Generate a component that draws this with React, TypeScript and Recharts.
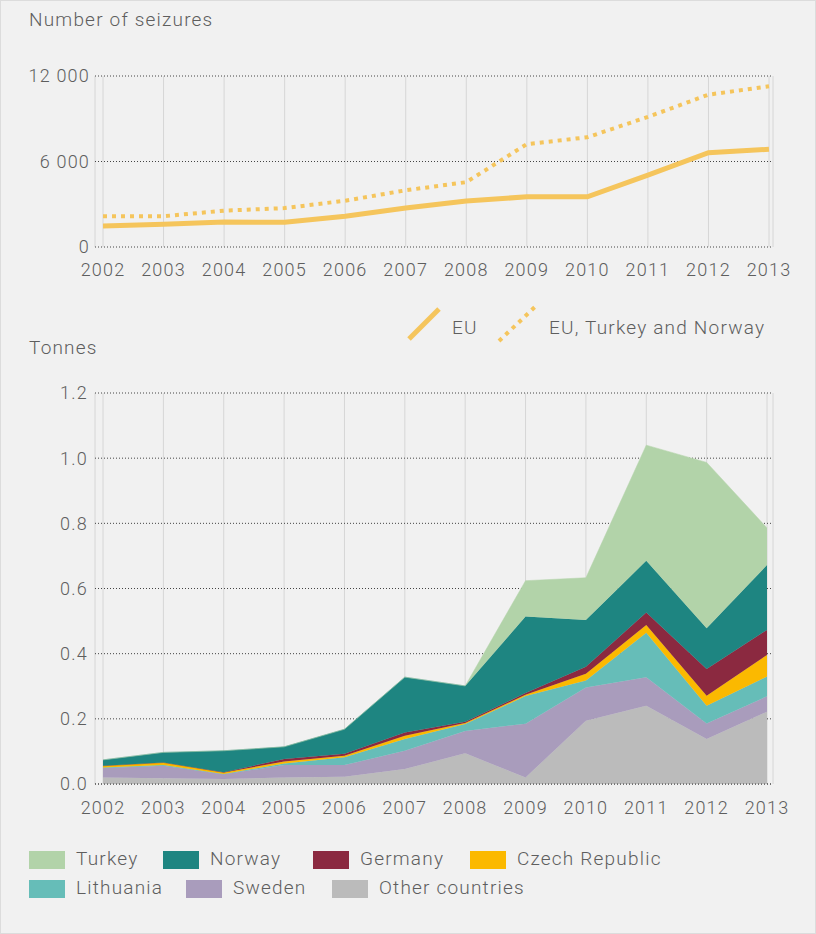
import React from 'react';
import { LineChart, Line, AreaChart, Area, XAxis, YAxis, CartesianGrid, ReferenceLine } from 'recharts';

// ---------- data ----------
const years = ['2002', '2003', '2004', '2005', '2006', '2007', '2008', '2009', '2010', '2011', '2012', '2013'];

const seizuresEU = [1480, 1590, 1750, 1730, 2160, 2730, 3230, 3520, 3520, 5050, 6620, 6860];
const seizuresEUTurkeyNorway = [2160, 2160, 2550, 2730, 3250, 3980, 4550, 7220, 7700, 9130, 10690, 11280];
const seizureTicks = [0, 6000, 12000];

const otherCountries = [0.020, 0.018, 0.015, 0.020, 0.022, 0.046, 0.094, 0.020, 0.194, 0.240, 0.138, 0.222];
const sweden = [0.029, 0.038, 0.015, 0.038, 0.036, 0.056, 0.069, 0.165, 0.102, 0.088, 0.048, 0.047];
const lithuania = [0.002, 0.002, 0.001, 0.005, 0.024, 0.036, 0.021, 0.085, 0.022, 0.136, 0.054, 0.061];
const czechRepublic = [0.005, 0.008, 0.004, 0.006, 0.005, 0.010, 0.003, 0.004, 0.020, 0.024, 0.031, 0.066];
const germany = [0.000, 0.000, 0.001, 0.008, 0.006, 0.010, 0.004, 0.005, 0.022, 0.038, 0.082, 0.077];
const norway = [0.018, 0.031, 0.066, 0.037, 0.075, 0.170, 0.110, 0.235, 0.143, 0.159, 0.125, 0.199];
const turkey = [0, 0, 0, 0, 0, 0, 0, 0.110, 0.130, 0.355, 0.509, 0.114];
const tonnesTicks = [0, 0.2, 0.4, 0.6, 0.8, 1.0, 1.2];

const lineLabels = ['EU', 'EU, Turkey and Norway'];
const areaLabels = ['Other countries', 'Sweden', 'Lithuania', 'Czech Republic', 'Germany', 'Norway', 'Turkey'];

// ---------- derived tables ----------
const seizureData = years.map((y, i) => ({ year: y, eu: seizuresEU[i], euTrNo: seizuresEUTurkeyNorway[i] }));
const tonnesData = years.map((y, i) => ({
  year: y,
  other: otherCountries[i],
  sweden: sweden[i],
  lithuania: lithuania[i],
  czech: czechRepublic[i],
  germany: germany[i],
  norway: norway[i],
  turkey: turkey[i],
}));

// ---------- styles ----------
const FONT = 'Roboto, "Liberation Sans", sans-serif';
const TEXT = '#5e5e5e';
const LINE = '#f5c55c';
const BG = '#f1f1f1';
const SPACING = 1.2;
const areaSeries = [
  { key: 'other', label: areaLabels[0], color: '#bbbbbb' },
  { key: 'sweden', label: areaLabels[1], color: '#a99cbc' },
  { key: 'lithuania', label: areaLabels[2], color: '#66bdb8' },
  { key: 'czech', label: areaLabels[3], color: '#fbb900' },
  { key: 'germany', label: areaLabels[4], color: '#8b2940' },
  { key: 'norway', label: areaLabels[5], color: '#1e8581' },
  { key: 'turkey', label: areaLabels[6], color: '#b2d3a9' },
];
const colorOf = (k: string) => areaSeries.find((s) => s.key === k)!.color;

const tickStyle = { fill: TEXT, fontSize: 18, fontFamily: FONT, fontWeight: 300, letterSpacing: SPACING };
const fmtThousands = (v: number) => String(v).replace(/\B(?=(\d{3})+(?!\d))/g, ' ');

const legendRows = [
  [
    { key: 'turkey', left: 28 },
    { key: 'norway', left: 162 },
    { key: 'germany', left: 312 },
    { key: 'czech', left: 469 },
  ],
  [
    { key: 'lithuania', left: 28 },
    { key: 'sweden', left: 185 },
    { key: 'other', left: 331 },
  ],
];

const labelStyle: React.CSSProperties = {
  position: 'absolute',
  fontFamily: FONT,
  fontWeight: 300,
  fontSize: 19,
  color: TEXT,
  whiteSpace: 'nowrap',
  lineHeight: '22px',
  letterSpacing: SPACING,
};

export default function App() {
  return (
    <div
      style={{
        position: 'absolute',
        left: 0,
        top: 0,
        width: 816,
        height: 934,
        background: BG,
        boxSizing: 'border-box',
        border: '1px solid #dcdcdc',
        overflow: 'hidden',
      }}
    >
      <div style={{ ...labelStyle, left: 28, top: 8 }}>Number of seizures</div>

      <div style={{ position: 'absolute', left: 0, top: 0 }}>
        <LineChart width={816} height={290} data={seizureData} margin={{ top: 75, right: 44, bottom: 14, left: 0 }}>
          <CartesianGrid horizontal={false} vertical stroke="#d6d6d6" strokeWidth={1} />
          <CartesianGrid vertical={false} horizontal stroke="#444" strokeDasharray="1 2" strokeWidth={1} />
          <XAxis
            dataKey="year"
            padding={{ left: 8, right: 4 }}
            axisLine={false}
            tickLine={false}
            tickSize={0}
            tickMargin={16}
            height={30}
            tick={tickStyle}
            interval={0}
          />
          <YAxis
            domain={[0, 12000]}
            ticks={seizureTicks}
            tickFormatter={fmtThousands}
            axisLine={false}
            tickLine={false}
            tickSize={0}
            tickMargin={5}
            width={94}
            tick={tickStyle}
          />
          <Line type="linear" dataKey="eu" name={lineLabels[0]} stroke={LINE} strokeWidth={5} dot={false} isAnimationActive={false} />
          <Line
            type="linear"
            dataKey="euTrNo"
            name={lineLabels[1]}
            stroke={LINE}
            strokeWidth={4}
            strokeDasharray="4 5"
            dot={false}
            isAnimationActive={false}
          />
        </LineChart>
      </div>

      {/* top legend */}
      <svg style={{ position: 'absolute', left: 404, top: 302 }} width={40} height={42}>
        <line x1={4} y1={36} x2={34} y2={6} stroke={LINE} strokeWidth={5} />
      </svg>
      <div style={{ ...labelStyle, left: 451, top: 316 }}>{lineLabels[0]}</div>
      <svg style={{ position: 'absolute', left: 494, top: 300 }} width={46} height={44}>
        <line x1={4} y1={40} x2={42} y2={4} stroke={LINE} strokeWidth={4} strokeDasharray="4 5" />
      </svg>
      <div style={{ ...labelStyle, left: 548, top: 316 }}>{lineLabels[1]}</div>

      <div style={{ ...labelStyle, left: 28, top: 336 }}>Tonnes</div>

      <div style={{ position: 'absolute', left: 0, top: 340 }}>
        <AreaChart width={816} height={500} data={tonnesData} margin={{ top: 52, right: 44, bottom: 17, left: 0 }}>
          <CartesianGrid horizontal={false} vertical stroke="#d6d6d6" strokeWidth={1} />
          <CartesianGrid vertical={false} horizontal stroke="#444" strokeDasharray="1 2" strokeWidth={1} />
          <XAxis
            dataKey="year"
            padding={{ left: 8, right: 6 }}
            axisLine={false}
            tickLine={false}
            tickSize={0}
            tickMargin={17}
            height={40}
            tick={tickStyle}
            interval={0}
          />
          <YAxis
            domain={[0, 1.2]}
            ticks={tonnesTicks}
            tickFormatter={(v: number) => v.toFixed(1)}
            axisLine={false}
            tickLine={false}
            tickSize={0}
            tickMargin={7}
            width={94}
            tick={tickStyle}
          />
          {areaSeries.map((s) => (
            <Area
              key={s.key}
              type="linear"
              dataKey={s.key}
              name={s.label}
              stackId="t"
              fill={s.color}
              fillOpacity={1}
              stroke={s.color}
              strokeWidth={0.5}
              dot={false}
              activeDot={false}
              isAnimationActive={false}
            />
          ))}
          <ReferenceLine y={0} stroke="#444" strokeDasharray="1 2" strokeWidth={1} />
        </AreaChart>
      </div>

      {/* bottom legend */}
      {legendRows.map((row, r) =>
        row.map((item) => (
          <div key={item.key} style={{ position: 'absolute', left: item.left, top: 850 + r * 29, height: 20 }}>
            <div style={{ position: 'absolute', left: 0, top: 0, width: 36, height: 18, background: colorOf(item.key) }} />
            <div style={{ ...labelStyle, left: 47, top: -3 }}>{areaSeries.find((s) => s.key === item.key)!.label}</div>
          </div>
        ))
      )}
    </div>
  );
}
